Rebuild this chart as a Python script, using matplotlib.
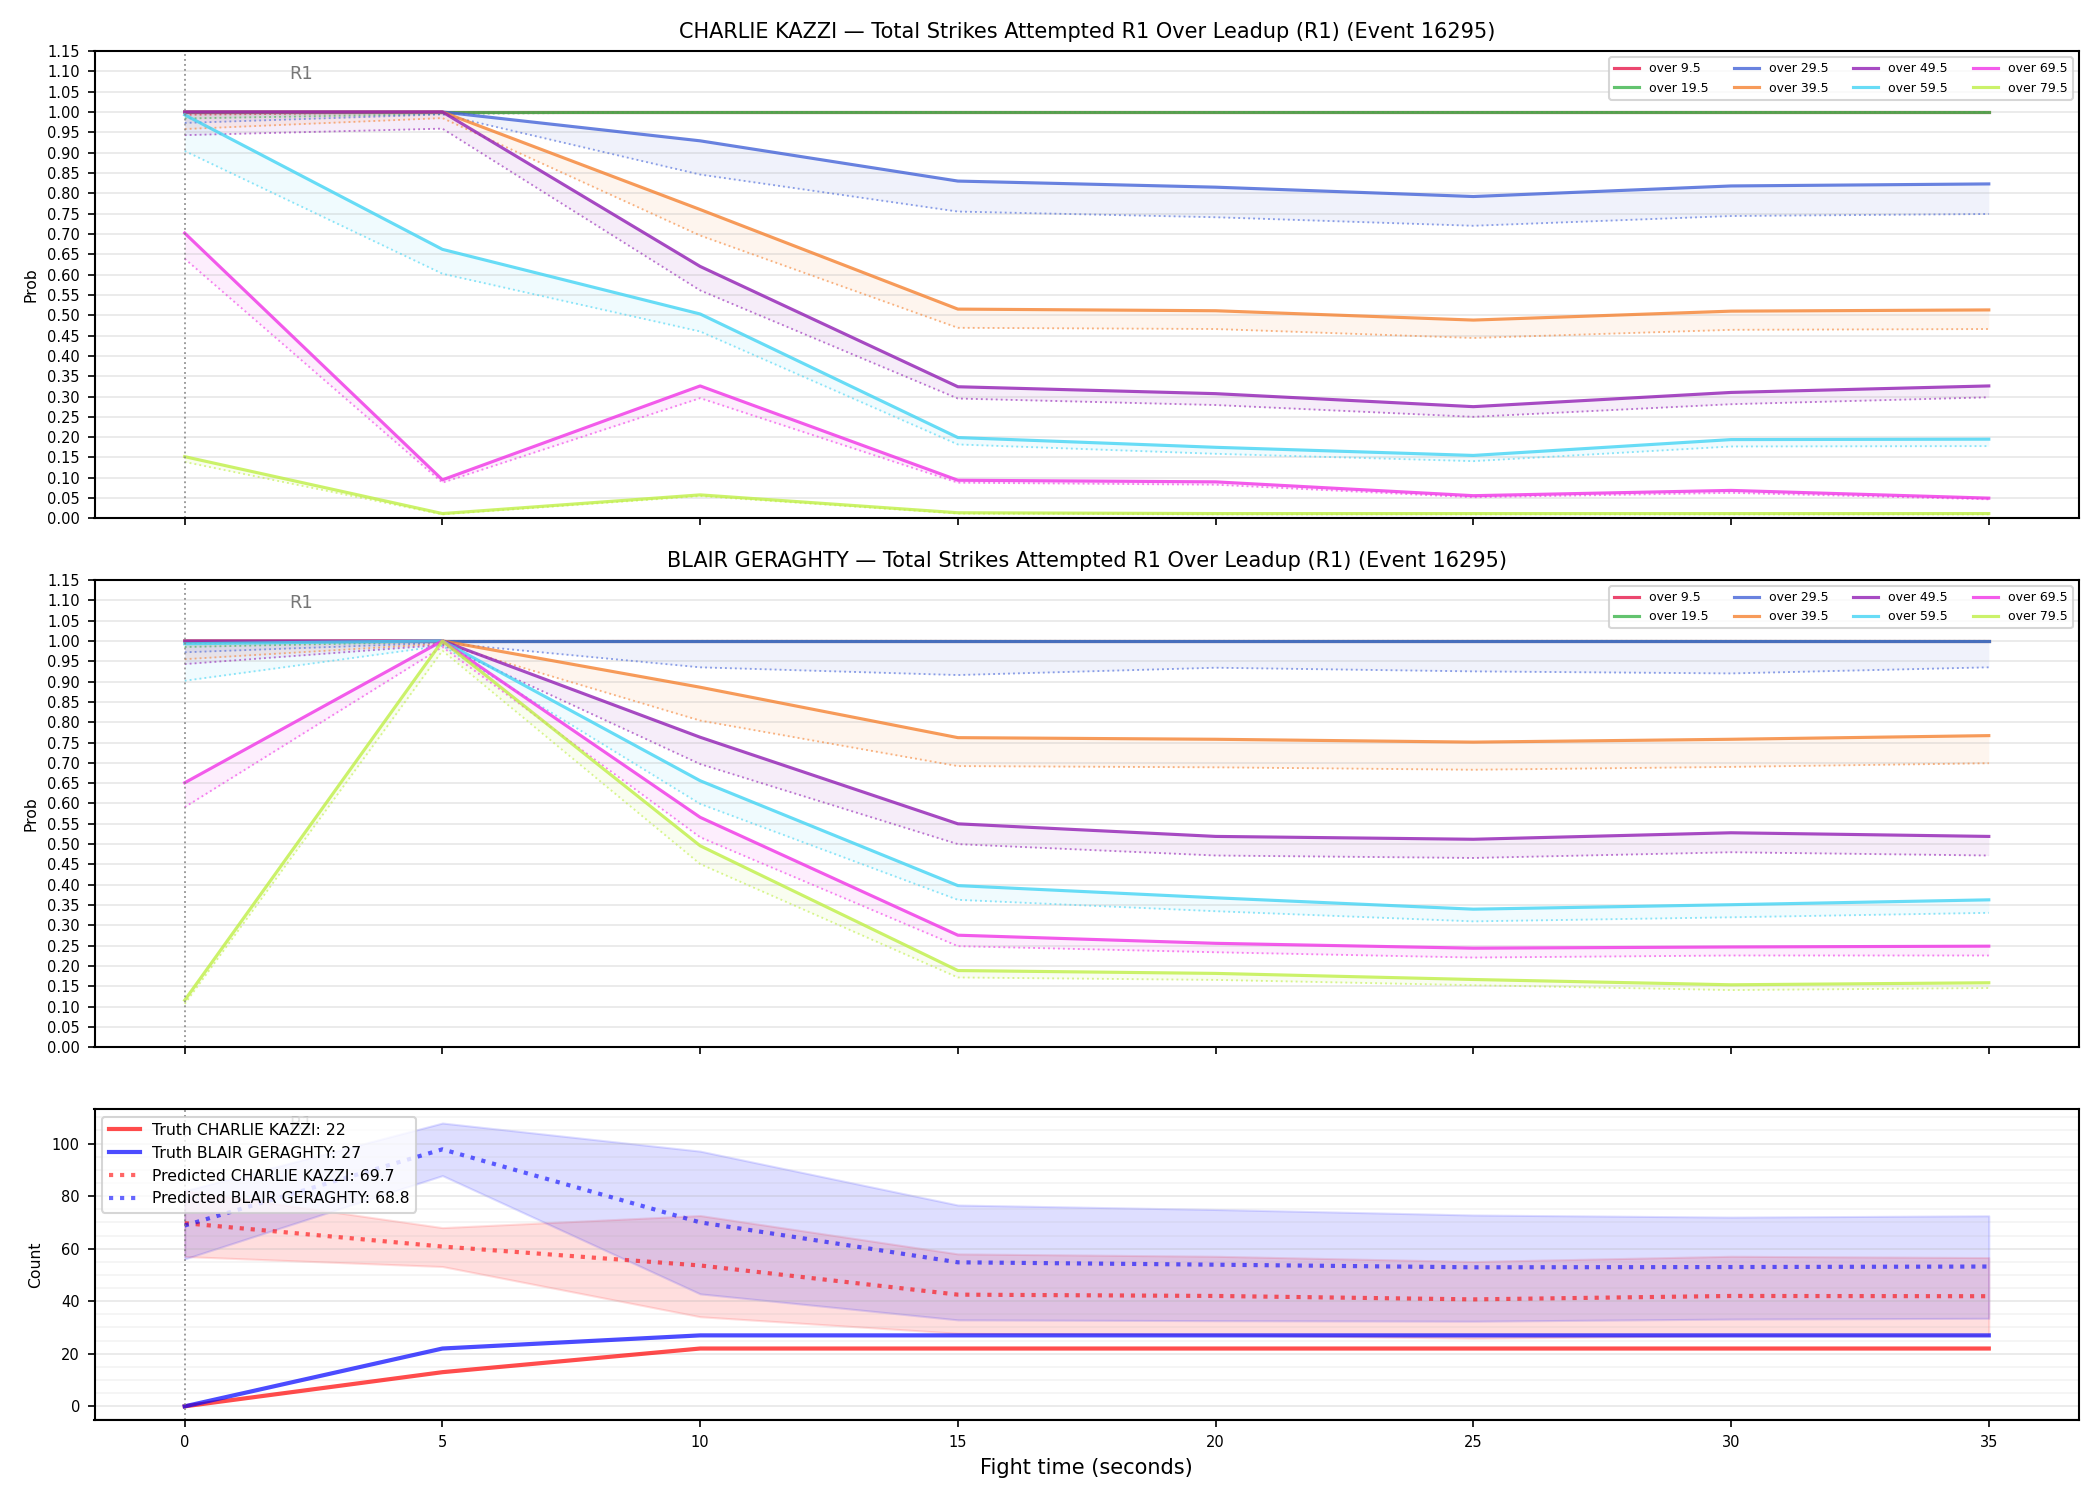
import numpy as np
import matplotlib
matplotlib.use("Agg")
import matplotlib.pyplot as plt
from matplotlib.ticker import MultipleLocator

# fight time (seconds)
t = [0, 5, 10, 15, 20, 25, 30, 35]

labels = ["over 9.5", "over 19.5", "over 29.5", "over 39.5",
          "over 49.5", "over 59.5", "over 69.5", "over 79.5"]
colors = ["#e6194B", "#3cb44b", "#4363d8", "#f58231",
          "#911eb4", "#42d4f4", "#f032e6", "#bfef45"]

# CHARLIE KAZZI: solid (upper) and dotted (lower) prob per threshold
kazzi_hi = [
    [1.0, 1.0, 1.0, 1.0, 1.0, 1.0, 1.0, 1.0],
    [1.0, 1.0, 1.0, 1.0, 1.0, 1.0, 1.0, 1.0],
    [1.0, 1.0, 0.929, 0.830, 0.815, 0.792, 0.818, 0.823],
    [1.0, 1.0, 0.760, 0.515, 0.511, 0.488, 0.510, 0.513],
    [1.0, 1.0, 0.620, 0.324, 0.307, 0.275, 0.310, 0.326],
    [0.993, 0.662, 0.503, 0.199, 0.175, 0.155, 0.194, 0.195],
    [0.702, 0.095, 0.326, 0.094, 0.090, 0.056, 0.069, 0.050],
    [0.152, 0.012, 0.058, 0.014, 0.012, 0.012, 0.012, 0.012],
]
kazzi_lo = [
    [0.993, 0.999, 1.0, 1.0, 1.0, 1.0, 1.0, 1.0],
    [0.984, 0.995, 1.0, 1.0, 1.0, 1.0, 1.0, 1.0],
    [0.973, 0.994, 0.846, 0.755, 0.741, 0.720, 0.744, 0.749],
    [0.958, 0.985, 0.696, 0.469, 0.466, 0.444, 0.464, 0.466],
    [0.943, 0.959, 0.561, 0.295, 0.279, 0.250, 0.281, 0.298],
    [0.904, 0.602, 0.460, 0.182, 0.159, 0.141, 0.177, 0.178],
    [0.639, 0.088, 0.296, 0.088, 0.083, 0.052, 0.063, 0.047],
    [0.139, 0.010, 0.055, 0.012, 0.010, 0.010, 0.010, 0.010],
]

# BLAIR GERAGHTY
geraghty_hi = [
    [1.0, 1.0, 1.0, 1.0, 1.0, 1.0, 1.0, 1.0],
    [1.0, 1.0, 1.0, 1.0, 1.0, 1.0, 1.0, 1.0],
    [1.0, 1.0, 1.0, 1.0, 1.0, 1.0, 1.0, 1.0],
    [1.0, 1.0, 0.886, 0.762, 0.758, 0.751, 0.758, 0.767],
    [1.0, 1.0, 0.763, 0.550, 0.519, 0.512, 0.528, 0.519],
    [0.993, 1.0, 0.656, 0.398, 0.368, 0.340, 0.351, 0.363],
    [0.651, 1.0, 0.566, 0.276, 0.256, 0.244, 0.247, 0.249],
    [0.116, 1.0, 0.496, 0.189, 0.182, 0.167, 0.154, 0.159],
]
geraghty_lo = [
    [0.995, 1.0, 1.0, 1.0, 1.0, 1.0, 1.0, 1.0],
    [0.985, 0.998, 1.0, 1.0, 1.0, 1.0, 1.0, 1.0],
    [0.972, 0.995, 0.935, 0.916, 0.934, 0.925, 0.920, 0.935],
    [0.955, 0.993, 0.804, 0.692, 0.689, 0.683, 0.690, 0.699],
    [0.943, 0.990, 0.697, 0.500, 0.472, 0.466, 0.480, 0.472],
    [0.902, 0.988, 0.599, 0.363, 0.335, 0.310, 0.320, 0.331],
    [0.591, 0.985, 0.517, 0.249, 0.234, 0.221, 0.226, 0.226],
    [0.107, 0.976, 0.451, 0.172, 0.166, 0.153, 0.141, 0.146],
]

# counts
truth_kazzi = [0, 13, 22, 22, 22, 22, 22, 22]
truth_geraghty = [0, 22, 27, 27, 27, 27, 27, 27]
pred_kazzi = [69.7, 60.8, 53.6, 42.5, 42.0, 40.7, 42.0, 41.9]
pred_kazzi_lo = [57.0, 53.2, 34.1, 27.8, 27.2, 25.9, 26.9, 26.9]
pred_kazzi_hi = [82.0, 68.0, 72.6, 58.0, 57.1, 55.1, 57.1, 56.6]
pred_geraghty = [68.8, 97.8, 70.0, 54.8, 53.9, 52.9, 53.0, 53.2]
pred_geraghty_lo = [56.1, 87.8, 42.8, 32.9, 32.6, 32.4, 33.2, 33.5]
pred_geraghty_hi = [82.0, 107.8, 97.1, 76.6, 74.9, 72.8, 72.0, 72.5]

fighters = ["CHARLIE KAZZI", "BLAIR GERAGHTY"]
event = 16295
round_x = 0
round_label_x = 2.25

fig, axes = plt.subplots(3, 1, figsize=(14, 10), sharex=True,
                         gridspec_kw={"height_ratios": [3, 3, 2]})
fig.subplots_adjust(left=0.045, right=0.99, top=0.966, bottom=0.053, hspace=0.148)


def prob_panel(ax, name, hi, lo):
    for lab, c, h, l in zip(labels, colors, hi, lo):
        ax.plot(t, h, color=c, alpha=0.8, lw=1.5, label=lab)
        ax.plot(t, l, color=c, alpha=0.6, lw=0.9, ls=":")
        ax.fill_between(t, l, h, color=c, alpha=0.08, lw=0)
    ax.set_ylim(0, 1.15)
    ax.yaxis.set_major_locator(MultipleLocator(0.05))
    ax.grid(axis="y", alpha=0.3)
    ax.set_ylabel("Prob", fontsize=7.5)
    ax.set_title(f"{name} \u2014 Total Strikes Attempted R1 Over Leadup (R1) (Event {event})",
                 fontsize=10)
    ax.legend(loc="upper right", ncol=4, fontsize=6)


prob_panel(axes[0], fighters[0], kazzi_hi, kazzi_lo)
prob_panel(axes[1], fighters[1], geraghty_hi, geraghty_lo)

ax = axes[2]
ax.fill_between(t, pred_kazzi_lo, pred_kazzi_hi, color="red", alpha=0.13)
ax.fill_between(t, pred_geraghty_lo, pred_geraghty_hi, color="blue", alpha=0.13)
ax.plot(t, truth_kazzi, color="red", alpha=0.7, lw=2,
        label=f"Truth {fighters[0]}: {truth_kazzi[-1]}")
ax.plot(t, truth_geraghty, color="blue", alpha=0.7, lw=2,
        label=f"Truth {fighters[1]}: {truth_geraghty[-1]}")
ax.plot(t, pred_kazzi, color="red", alpha=0.6, lw=2, ls=":",
        label=f"Predicted {fighters[0]}: {pred_kazzi[0]}")
ax.plot(t, pred_geraghty, color="blue", alpha=0.6, lw=2, ls=":",
        label=f"Predicted {fighters[1]}: {pred_geraghty[0]}")
ax.yaxis.set_major_locator(MultipleLocator(20))
ax.yaxis.set_minor_locator(MultipleLocator(5))
ax.tick_params(axis="y", which="minor", length=0)
ax.grid(axis="y", which="major", alpha=0.3)
ax.grid(axis="y", which="minor", alpha=0.15)
ax.set_ylabel("Count", fontsize=7.5)
ax.set_xlabel("Fight time (seconds)", fontsize=10)
ax.legend(loc="upper left", fontsize=7.5)

for a in axes:
    a.axvline(round_x, color="gray", ls=":", lw=0.9, alpha=0.8)
    a.text(round_label_x, 0.95, "R1", transform=a.get_xaxis_transform(),
           ha="center", va="center", fontsize=8.5, color="#666666", alpha=0.9, zorder=0)
    a.tick_params(labelsize=7)
    for s in a.spines.values():
        s.set_linewidth(1.0)

fig.savefig("out.png", dpi=150)
